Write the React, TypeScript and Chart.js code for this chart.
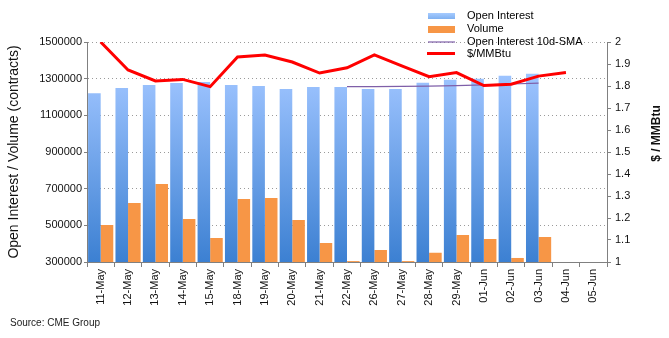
import React, { useEffect, useRef } from "react";
import { Chart, registerables } from "chart.js";

Chart.register(...registerables);

const categories = [
  "11-May", "12-May", "13-May", "14-May", "15-May", "18-May", "19-May", "20-May", "21-May", "22-May",
  "26-May", "27-May", "28-May", "29-May", "01-Jun", "02-Jun", "03-Jun", "04-Jun", "05-Jun",
];

const openInterest = [
  1220000, 1249000, 1265000, 1276000, 1282000, 1265000, 1260000, 1244000, 1255000, 1255000,
  1244000, 1244000, 1278000, 1294000, 1300000, 1316000, 1327000, null, null,
];

const volume = [
  502000, 622000, 725000, 535000, 431000, 644000, 649000, 529000, 404000, 305000,
  365000, 305000, 351000, 447000, 425000, 322000, 436000, null, null,
];

const oiSma = [
  null, null, null, null, null, null, null, null, null, 1257000,
  1257000, 1258000, 1259000, 1262000, 1266000, 1271000, 1276000, null, null,
];

const price = [
  2.0, 1.873, 1.823, 1.83, 1.797, 1.932, 1.941, 1.909, 1.859, 1.883,
  1.941, 1.891, 1.842, 1.861, 1.802, 1.808, 1.845, 1.861, null,
];

const leftTicks = { min: 300000, max: 1500000, step: 200000 };
const rightTicks = { min: 1, max: 2, step: 0.1 };

const legendItems = ["Open Interest", "Volume", "Open Interest 10d-SMA", "$/MMBtu"];
const leftTitle = "Open Interest / Volume (contracts)";
const rightTitle = "$ / MMBtu";
const sourceText = "Source: CME Group";

const FONT = "'Liberation Sans', Arial, sans-serif";

const overlayPlugin = {
  id: "overlay",
  afterDraw(chart: any) {
    const c: CanvasRenderingContext2D = chart.ctx;
    c.save();
    // legend
    const g = c.createLinearGradient(0, 13, 0, 19);
    g.addColorStop(0, "#a6cbff");
    g.addColorStop(1, "#7fb0f0");
    c.fillStyle = g;
    c.fillRect(428, 13, 27, 6);
    c.fillStyle = "#f79646";
    c.fillRect(428, 26, 27, 7);
    c.strokeStyle = "#7f5fa8";
    c.lineWidth = 1.2;
    c.beginPath();
    c.moveTo(428, 42);
    c.lineTo(455, 42);
    c.stroke();
    c.strokeStyle = "#ff0000";
    c.lineWidth = 3;
    c.beginPath();
    c.moveTo(427, 53.5);
    c.lineTo(455, 53.5);
    c.stroke();
    c.fillStyle = "#000";
    c.font = `11px ${FONT}`;
    c.textAlign = "left";
    c.textBaseline = "middle";
    const ys = [16, 29, 41.5, 54];
    legendItems.forEach((t, i) => c.fillText(t, 467, ys[i]));
    // right title
    c.save();
    c.translate(657, 133.5);
    c.rotate(-Math.PI / 2);
    c.textAlign = "center";
    c.font = `bold 12px ${FONT}`;
    c.fillStyle = "#111";
    c.fillText(rightTitle, 0, 0);
    c.restore();
    // source
    c.font = `10px ${FONT}`;
    c.fillStyle = "#222";
    c.textAlign = "left";
    c.fillText(sourceText, 10, 323);
    c.restore();
  },
};

export default function App() {
  const ref = useRef<HTMLCanvasElement | null>(null);

  useEffect(() => {
    if (!ref.current) return;
    Chart.defaults.font.family = FONT;
    const chart = new Chart(ref.current, {
      type: "bar",
      data: {
        labels: categories,
        datasets: [
          {
            type: "line",
            label: legendItems[3],
            data: price,
            yAxisID: "y1",
            borderColor: "#ff0000",
            backgroundColor: "#ff0000",
            borderWidth: 3,
            pointRadius: 0,
            tension: 0,
            order: 0,
          },
          {
            type: "line",
            label: legendItems[2],
            data: oiSma,
            yAxisID: "y",
            borderColor: "#7f5fa8",
            backgroundColor: "#7f5fa8",
            borderWidth: 1.2,
            pointRadius: 0,
            order: 1,
          },
          {
            type: "bar",
            label: legendItems[0],
            data: openInterest,
            yAxisID: "y",
            backgroundColor: (ctx: any) => {
              const area = ctx.chart.chartArea;
              if (!area) return "#7aa8e8";
              const gr = ctx.chart.ctx.createLinearGradient(0, area.top + 32, 0, area.bottom);
              gr.addColorStop(0, "#9ec4ff");
              gr.addColorStop(1, "#3c80d2");
              return gr;
            },
            categoryPercentage: 0.92,
            barPercentage: 1.0,
            order: 2,
          },
          {
            type: "bar",
            label: legendItems[1],
            data: volume,
            yAxisID: "y",
            backgroundColor: "#f79646",
            categoryPercentage: 0.92,
            barPercentage: 1.0,
            order: 3,
          },
        ],
      } as any,
      options: {
        responsive: false,
        animation: false,
        devicePixelRatio: 1,
        layout: { padding: { left: 0, right: 0, top: 42, bottom: 0 } },
        plugins: {
          legend: { display: false },
          tooltip: { enabled: false },
        },
        scales: {
          x: {
            offset: true,
            afterFit: (s: any) => {
              s.height = 76;
            },
            grid: {
              display: true,
              drawOnChartArea: false,
              drawTicks: true,
              tickLength: 5,
              offset: true,
              tickColor: "#808080",
            },
            border: { display: true, color: "#808080", width: 1 },
            ticks: {
              autoSkip: false,
              minRotation: 90,
              maxRotation: 90,
              color: "#111",
              font: { size: 11, family: FONT },
              padding: 2,
            },
          },
          y: {
            position: "left",
            min: leftTicks.min,
            max: leftTicks.max,
            afterFit: (s: any) => {
              s.width = 87;
            },
            ticks: {
              stepSize: leftTicks.step,
              color: "#111",
              font: { size: 11, family: FONT },
              padding: 2,
              callback: (v: any) => String(v),
            },
            grid: {
              color: "#9a9a9a",
              lineWidth: 1,
              drawTicks: true,
              tickLength: 3,
              tickColor: "#808080",
            },
            border: { display: true, color: "#808080", width: 1, dash: [1, 3] },
            title: {
              display: true,
              text: leftTitle,
              color: "#111",
              font: { size: 14, family: FONT },
              padding: { top: 6, bottom: 0 },
            },
          },
          y1: {
            position: "right",
            min: rightTicks.min,
            max: rightTicks.max,
            afterFit: (s: any) => {
              s.width = 62;
            },
            ticks: {
              stepSize: rightTicks.step,
              color: "#111",
              font: { size: 11, family: FONT },
              padding: 4,
              callback: (v: any) => String(Number(Number(v).toFixed(1))),
            },
            grid: {
              drawOnChartArea: false,
              drawTicks: true,
              tickLength: 4,
              tickColor: "#808080",
            },
            border: { display: true, color: "#808080", width: 1 },
          },
        },
      } as any,
      plugins: [overlayPlugin],
    });
    return () => chart.destroy();
  }, []);

  return (
    <div style={{ position: "absolute", left: 0, top: 0, width: 669, height: 338, background: "#fff" }}>
      <canvas ref={ref} width={669} height={338} style={{ width: 669, height: 338, display: "block" }} />
    </div>
  );
}
